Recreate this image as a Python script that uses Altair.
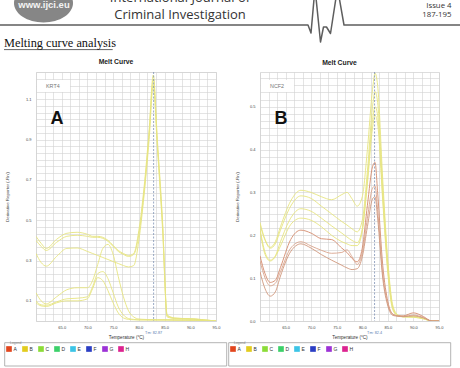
import altair as alt
import pandas as pd

# ---- melt curve samples: derivative reporter (-Rn') against temperature (°C) ----
temp_krt4 = [60, 61, 62, 64, 66, 68, 70, 71, 72, 73, 74, 75, 76, 77, 78, 79,
             80, 81, 82, 82.8, 83.6, 84.6, 85.5, 87, 89, 91, 93, 95]
krt4_s1 = [0.42, 0.385, 0.36, 0.405, 0.435, 0.44, 0.43, 0.42, 0.42, 0.415, 0.40, 0.375, 0.35, 0.335, 0.325, 0.335,
           0.45, 0.66, 0.95, 1.22, 0.90, 0.50, 0.03, 0.015, 0.012, 0.01, 0.005, 0.0]
krt4_s2 = [0.40, 0.37, 0.35, 0.39, 0.42, 0.425, 0.42, 0.415, 0.415, 0.41, 0.395, 0.37, 0.345, 0.33, 0.32, 0.33,
           0.43, 0.64, 0.93, 1.20, 0.88, 0.48, 0.025, 0.014, 0.012, 0.01, 0.005, 0.0]
krt4_s3 = [0.335, 0.29, 0.272, 0.32, 0.36, 0.362, 0.345, 0.335, 0.325, 0.315, 0.305, 0.295, 0.285, 0.275, 0.268, 0.275,
           0.40, 0.62, 0.90, 1.17, 0.86, 0.46, 0.02, 0.012, 0.01, 0.008, 0.004, 0.0]
krt4_s4 = [0.14, 0.10, 0.085, 0.12, 0.155, 0.165, 0.165, 0.20, 0.28, 0.36, 0.38, 0.33, 0.22, 0.12, 0.05, 0.02,
           0.01, 0.008, 0.007, 0.007, 0.006, 0.006, 0.006, 0.005, 0.005, 0.004, 0.002, 0.0]
krt4_s5 = [0.10, 0.08, 0.078, 0.095, 0.11, 0.113, 0.12, 0.17, 0.235, 0.245, 0.21, 0.14, 0.07, 0.03, 0.012, 0.008,
           0.006, 0.006, 0.005, 0.005, 0.005, 0.005, 0.005, 0.005, 0.004, 0.004, 0.002, 0.0]
krt4_s6 = [0.09, 0.075, 0.072, 0.09, 0.10, 0.10, 0.11, 0.16, 0.215, 0.20, 0.15, 0.09, 0.04, 0.015, 0.008, 0.006,
           0.005, 0.005, 0.005, 0.005, 0.005, 0.005, 0.005, 0.004, 0.004, 0.003, 0.002, 0.0]

temp_ncf2 = [60, 61, 62, 63, 64, 66, 68, 70, 72, 74, 76, 77, 78, 79,
             80, 81, 82, 82.5, 83, 84, 85, 86, 87, 88, 90, 92, 93.6, 95]
ncf2_y1 = [0.23, 0.19, 0.172, 0.185, 0.22, 0.28, 0.305, 0.30, 0.29, 0.283, 0.295, 0.30, 0.285, 0.268,
           0.29, 0.40, 0.54, 0.578, 0.55, 0.33, 0.14, 0.035, 0.014, 0.01, 0.01, 0.006, 0.0, 0.0]
ncf2_y2 = [0.225, 0.188, 0.17, 0.18, 0.212, 0.268, 0.292, 0.286, 0.268, 0.25, 0.232, 0.224, 0.215, 0.208,
           0.235, 0.35, 0.50, 0.535, 0.51, 0.31, 0.13, 0.03, 0.013, 0.01, 0.01, 0.006, 0.0, 0.0]
ncf2_y3 = [0.215, 0.16, 0.142, 0.152, 0.185, 0.24, 0.262, 0.256, 0.24, 0.222, 0.205, 0.196, 0.188, 0.183,
           0.215, 0.33, 0.47, 0.50, 0.48, 0.29, 0.12, 0.028, 0.012, 0.01, 0.009, 0.005, 0.0, 0.0]
ncf2_y4 = [0.21, 0.155, 0.14, 0.15, 0.175, 0.225, 0.24, 0.235, 0.22, 0.2, 0.185, 0.18, 0.176, 0.176,
           0.21, 0.32, 0.45, 0.48, 0.46, 0.28, 0.11, 0.025, 0.012, 0.01, 0.009, 0.005, 0.0, 0.0]
ncf2_r1 = [0.152, 0.11, 0.09, 0.095, 0.125, 0.19, 0.212, 0.205, 0.192, 0.19, 0.17, 0.16, 0.146, 0.138,
           0.17, 0.27, 0.36, 0.37, 0.30, 0.13, 0.045, 0.016, 0.012, 0.012, 0.019, 0.01, 0.0, 0.0]
ncf2_r2 = [0.14, 0.10, 0.082, 0.088, 0.115, 0.17, 0.185, 0.175, 0.165, 0.158, 0.16, 0.166, 0.15, 0.132,
           0.16, 0.24, 0.31, 0.315, 0.26, 0.11, 0.04, 0.015, 0.012, 0.011, 0.014, 0.008, 0.0, 0.0]
ncf2_r3 = [0.115, 0.075, 0.058, 0.068, 0.105, 0.162, 0.18, 0.17, 0.155, 0.142, 0.13, 0.124, 0.12, 0.122,
           0.15, 0.22, 0.285, 0.29, 0.24, 0.10, 0.035, 0.013, 0.011, 0.01, 0.012, 0.007, 0.0, 0.0]

tm_krt4 = [82.87]
tm_ncf2 = [82.4]

wells = ["A", "B", "C", "D", "E", "F", "G", "H"]
well_colors = ["#e2461e", "#e2cc1e", "#8bdc38", "#3cd06a", "#3cc4e6", "#2b3ec4", "#9c32d6", "#dc2390"]

YELLOW = "#e6e480"
BROWNS = ["#d48a6c", "#d9a48c", "#cf967c"]
GRID = "#d2d2d2"
SANS = "Liberation Sans"


def curve_frame(temps, series):
    rows = []
    for name, color, values in series:
        for t, v in zip(temps, values):
            rows.append({"T": t, "v": v, "curve": name, "col": color})
    return pd.DataFrame(rows)


krt4_df = curve_frame(temp_krt4, [
    ("k1", YELLOW, krt4_s1), ("k2", YELLOW, krt4_s2), ("k3", YELLOW, krt4_s3),
    ("k4", YELLOW, krt4_s4), ("k5", YELLOW, krt4_s5), ("k6", YELLOW, krt4_s6)])
ncf2_df = curve_frame(temp_ncf2, [
    ("y1", YELLOW, ncf2_y1), ("y2", YELLOW, ncf2_y2), ("y3", YELLOW, ncf2_y3), ("y4", YELLOW, ncf2_y4),
    ("r1", BROWNS[0], ncf2_r1), ("r2", BROWNS[1], ncf2_r2), ("r3", BROWNS[2], ncf2_r3)])

x_grid = [60 + 5 * i / 3 for i in range(22)]
krt4_ygrid = [i / 30 for i in range(38)]
ncf2_ygrid = [i / 60 for i in range(35)]

XLAB = "datum.value > 62 && abs(datum.value/5 - round(datum.value/5)) < 0.001 ? format(datum.value, '.1f') : ''"
YLAB_ODD = ("abs(datum.value*10 - round(datum.value*10)) < 0.001 && round(datum.value*10) % 2 == 1"
            " ? format(datum.value, '.1f') : ''")
YLAB_ALL = "abs(datum.value*10 - round(datum.value*10)) < 0.001 ? format(datum.value, '.1f') : ''"

blank = pd.DataFrame({"k": [0]})
wells_df = pd.DataFrame({"well": wells})


def deco_text(txt, x, y, size, **kw):
    return alt.Chart(blank).mark_text(text=txt, fontSize=size, **kw).encode(
        x=alt.value(x), y=alt.value(y))


def panel(df, tm, tm_label, ymax, ygrid, ylab, gene, letter, width, ytitle_x):
    height = 249
    x_enc = alt.X("T:Q", scale=alt.Scale(domain=[60, 95], nice=False, zero=False),
                  axis=alt.Axis(values=x_grid, grid=True, gridColor=GRID, gridWidth=0.6,
                                ticks=False, domain=False, labelExpr=XLAB, labelFontSize=4,
                                labelColor="#444", labelPadding=4, labelOverlap=False,
                                labelFlush=False, title="Temperature (°C)", titleFontSize=4.6,
                                titleFontWeight="normal", titleColor="#333", titleY=16,
                                titleBaseline="middle"))
    y_enc = alt.Y("v:Q", scale=alt.Scale(domain=[0, ymax], nice=False, zero=False),
                  axis=alt.Axis(values=ygrid, grid=True, gridColor=GRID, gridWidth=0.6,
                                ticks=False, domain=False, labelExpr=ylab, labelFontSize=4,
                                labelColor="#444", labelPadding=5, labelOverlap=False,
                                labelFlush=False, title="Derivative Reporter (-Rn')",
                                titleFontSize=4.4, titleFontWeight="normal", titleColor="#444",
                                titleX=ytitle_x, titleY=height / 2, titleAngle=270,
                                titleAlign="center", titleBaseline="middle"))

    tm_df = pd.DataFrame({"T": tm, "label": [tm_label]})

    lines = alt.Chart(df).mark_line(strokeWidth=0.9, interpolate="monotone", clip=True).encode(
        x=x_enc, y=y_enc, detail="curve:N", stroke=alt.Stroke("col:N", scale=None))
    tm_rule = alt.Chart(tm_df).mark_rule(strokeDash=[2, 1.5], color="#7f92b4", strokeWidth=0.8).encode(x=x_enc)
    tm_text = alt.Chart(tm_df).mark_text(fontSize=3.8, color="#5a7bb0", font=SANS).encode(
        x=x_enc, y=alt.value(height + 11.5), text="label:N")

    gene_box = alt.Chart(blank).mark_rect(fill="white").encode(
        x=alt.value(1), x2=alt.value(34), y=alt.value(8), y2=alt.value(20))
    gene_txt = deco_text(gene, 10, 14, 5.4, align="left", baseline="middle", color="#777", font=SANS)
    letter_txt = deco_text(letter, 14.5, 52, 18, align="left", baseline="alphabetic",
                           fontWeight="bold", color="#111", font=SANS)

    legend_box = alt.Chart(blank).mark_rect(fillOpacity=0, stroke="#a0a0a0", strokeWidth=0.8).encode(
        x=alt.value(-31.3), x2=alt.value(190.7), y=alt.value(270.7), y2=alt.value(294))
    legend_cap = deco_text("Legend", -26, 270.5, 3.4, align="left", baseline="middle", color="#888", font=SANS)
    legend_layer = alt.Chart(wells_df).mark_square(size=0, opacity=0).encode(
        x=alt.value(0), y=alt.value(0),
        color=alt.Color("well:N", scale=alt.Scale(domain=wells, range=well_colors),
                        legend=alt.Legend(orient="none", legendX=-30, legendY=274, direction="horizontal",
                                          columns=8, title=None, symbolType="square", symbolSize=32,
                                          symbolStrokeWidth=0, symbolOpacity=1, labelFontSize=5,
                                          labelFont=SANS, labelColor="#333", labelOffset=1.5,
                                          columnPadding=4, padding=0, gridAlign="all")))

    return alt.layer(gene_box, lines, tm_rule, tm_text, gene_txt, letter_txt,
                     legend_box, legend_cap, legend_layer).properties(
        width=width, height=height,
        title=alt.TitleParams("Melt Curve", fontSize=6.8, font=SANS, fontWeight="bold",
                              color="#222", offset=5, dx=-10))


panel_a = panel(krt4_df, tm_krt4, "Tm: 82.87", 1.235, krt4_ygrid, YLAB_ODD, "KRT4", "A", 180, -29)
panel_b = panel(ncf2_df, tm_ncf2, "Tm: 82.4", 0.581, ncf2_ygrid, YLAB_ALL, "NCF2", "B", 179, -23)

# ---- journal page header ----
ellipse = "M-1,0 A1,0.66 0 1,1 1,0 A1,0.66 0 1,1 -1,0 Z"
ecg_path = ("M0,25 L308,25 L311,33 L315,-12 L320.5,42 L323.5,27 L326.5,27 L330.5,33.5 "
            "L337.5,-12 L344,25 L460,25")

logo = alt.Chart(blank).mark_point(shape=ellipse, size=3481, filled=True, color="#868686",
                                   opacity=1, strokeWidth=0, clip=True).encode(
    x=alt.value(43.5), y=alt.value(3))
ecg = alt.Chart(blank).mark_point(shape=ecg_path, size=4, filled=False, color="#5e5e5e",
                                  strokeWidth=1.5, opacity=1, strokeJoin="round", clip=True).encode(
    x=alt.value(0), y=alt.value(0))
header = alt.layer(
    logo,
    deco_text("www.ijci.eu", 44, 5, 9.5, fontWeight="bold", color="#f4f4f4", font=SANS,
              baseline="middle", clip=True),
    deco_text("International Journal of", 180, 1.6, 13, color="#333", font="Open Sans",
              baseline="alphabetic", clip=True),
    deco_text("Criminal Investigation", 180, 18.6, 13, color="#333", font="Open Sans",
              baseline="alphabetic"),
    ecg,
    deco_text("Issue 4", 451.5, 8.3, 7.8, align="right", color="#333", font="Open Sans", baseline="alphabetic"),
    deco_text("187-195", 451.5, 17.3, 7.8, align="right", color="#333", font="Open Sans", baseline="alphabetic"),
    deco_text("Melting curve analysis", 4, 46.7, 12.3, align="left", color="#111",
              font="Liberation Serif", baseline="alphabetic"),
    alt.Chart(blank).mark_rule(color="#222", strokeWidth=0.7).encode(
        x=alt.value(4), x2=alt.value(112.7), y=alt.value(49.6)),
).properties(width=460, height=72, view=alt.ViewBackground(strokeOpacity=0))

spacer = alt.Chart(blank).mark_text(text=" ").encode(x=alt.value(0), y=alt.value(0)).properties(
    width=36, height=10, view=alt.ViewBackground(strokeOpacity=0))

panels = alt.hconcat(panel_a, panel_b, spacing=44, bounds="flush").resolve_scale(color="independent")
row = alt.hconcat(spacer, panels, spacing=0, bounds="flush")

chart = alt.vconcat(header, row, spacing=0, bounds="flush").properties(padding=0).configure_view(
    stroke="#6e6e6e", strokeWidth=1).configure(font=SANS)

chart.save("out.html", embed_options={"renderer": "svg", "actions": False})
